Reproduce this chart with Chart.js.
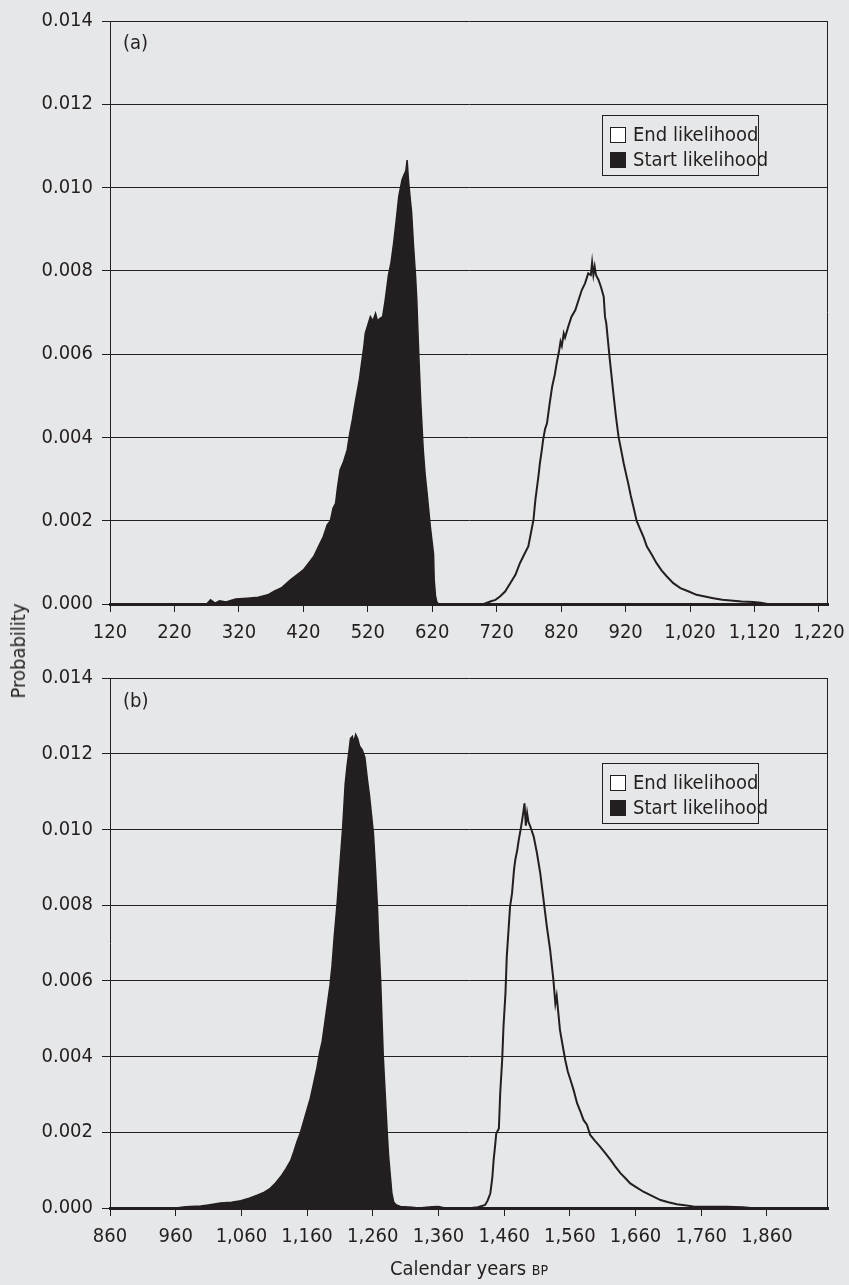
<!DOCTYPE html>
<html>
<head>
<meta charset="utf-8">
<script src="https://cdn.jsdelivr.net/npm/chart.js@4.4.1/dist/chart.umd.min.js"></script>
<style>
  html, body { margin: 0; padding: 0; background: #e6e7e8; }
  #wrap { position: relative; width: 849px; height: 1285px; background: #e6e7e8; overflow: hidden;
          font-family: "Liberation Sans Narrow", "DejaVu Sans Condensed", "Liberation Sans", "DejaVu Sans", sans-serif;
          font-stretch: condensed; color: #231f20; }
  canvas { position: absolute; left: 0; }
  .panel { position: absolute; font-size: 20px; line-height: 1; }
  .legend { position: absolute; width: 155px; height: 59px; border: 1px solid #231f20; background: #e6e7e8; font-size: 20px; }
  .legend .row { position: absolute; left: 7px; height: 22px; line-height: 22px; white-space: nowrap; }
  .legend .sw { display: inline-block; width: 14px; height: 14px; border: 1px solid #231f20; vertical-align: -2px; margin-right: 7px; }
  #ytitle { position: absolute; left: 18px; top: 651px; font-size: 20px; transform: translate(-50%, -50%) rotate(-90deg); white-space: nowrap; }
  #xtitle { position: absolute; left: 469px; top: 1268px; font-size: 20px; transform: translate(-50%, -50%); white-space: nowrap; }
  #xtitle span { font-size: 14px; }
</style>
</head>
<body>
<div id="wrap">
  <canvas id="cA" width="849" height="660" style="top:0"></canvas>
  <canvas id="cB" width="849" height="630" style="top:655px"></canvas>
  <div class="panel" style="left:123px; top:32px">(a)</div>
  <div class="panel" style="left:123px; top:690px">(b)</div>
  <div id="ytitle">Probability</div>
  <div id="xtitle">Calendar years <span>BP</span></div>
</div>
<script>
// ---------- data ----------
const seriesLabels = ["End likelihood", "Start likelihood"];
const yTicks = [0, 0.002, 0.004, 0.006, 0.008, 0.010, 0.012, 0.014];

// Panel (a)
const xTicksA = [120, 220, 320, 420, 520, 620, 720, 820, 920, 1020, 1120, 1220];
const xRangeA = [120, 1234];
const startYearsA = [120, 270, 276, 283, 290, 300, 315, 333, 350, 365, 374, 387, 400, 410, 420, 428, 436, 444, 451, 457, 462, 466, 470, 473, 477, 482, 488, 492, 496, 500, 503, 507, 511, 514, 516, 520, 524, 528, 532, 535, 539, 543, 547, 552, 556, 560, 564, 568, 573, 576, 579, 581, 583, 586, 588, 591, 594, 596, 599, 602, 606, 609, 612, 617, 620, 622, 623, 625, 627, 630, 1234];
const startProbA  = [0, 0, 0.0001, 0.00002, 0.00008, 0.00005, 0.00012, 0.00014, 0.00016, 0.00022, 0.0003, 0.0004, 0.00058, 0.0007, 0.00082, 0.00098, 0.00114, 0.0014, 0.00162, 0.0019, 0.002, 0.0023, 0.00242, 0.0028, 0.00322, 0.0034, 0.0037, 0.0041, 0.00442, 0.0048, 0.00506, 0.0054, 0.00586, 0.0062, 0.0065, 0.0067, 0.0069, 0.0068, 0.00698, 0.0068, 0.00686, 0.0069, 0.0073, 0.0079, 0.0082, 0.00866, 0.0092, 0.00978, 0.01018, 0.0103, 0.0104, 0.01066, 0.0102, 0.0097, 0.0094, 0.00858, 0.0079, 0.0073, 0.00602, 0.0049, 0.0037, 0.0031, 0.00266, 0.00186, 0.00146, 0.0012, 0.00058, 0.0002, 0.00005, 0, 0];
const endYearsA = [120, 700, 710, 718, 725, 733, 741, 749, 756, 763, 769, 773, 777, 780, 782, 785, 787, 790, 792, 795, 798, 802, 806, 810, 813, 817, 819, 821, 824, 826, 831, 836, 842, 847, 852, 857, 862, 866, 868, 870, 872, 874, 878, 882, 886, 888, 890, 895, 901, 905, 909, 913, 917, 921, 924, 928, 932, 937, 943, 948, 953, 960, 968, 976, 984, 994, 1005, 1018, 1030, 1043, 1056, 1070, 1087, 1100, 1118, 1130, 1140, 1234];
const endProbA  = [0, 0, 0.00006, 0.0001, 0.00018, 0.0003, 0.0005, 0.0007, 0.00098, 0.0012, 0.00138, 0.0017, 0.00202, 0.0025, 0.00274, 0.0031, 0.00338, 0.0037, 0.00394, 0.0042, 0.00434, 0.0048, 0.00522, 0.0055, 0.00578, 0.0061, 0.0063, 0.0062, 0.0065, 0.0064, 0.00666, 0.0069, 0.00706, 0.0073, 0.00754, 0.0077, 0.00794, 0.0079, 0.0082, 0.0079, 0.0081, 0.0079, 0.00778, 0.0076, 0.00738, 0.0069, 0.00674, 0.00594, 0.00506, 0.0045, 0.00402, 0.0037, 0.00338, 0.0031, 0.0029, 0.0026, 0.00234, 0.002, 0.00178, 0.0016, 0.00138, 0.0012, 0.00098, 0.0008, 0.00066, 0.0005, 0.00038, 0.0003, 0.00022, 0.00018, 0.00014, 0.0001, 0.00008, 0.00006, 0.00005, 0.00003, 0, 0];

// Panel (b)
const xTicksB = [860, 960, 1060, 1160, 1260, 1360, 1460, 1560, 1660, 1760, 1860];
const xRangeB = [860, 1953];
const startYearsB = [860, 960, 975, 998, 1010, 1028, 1045, 1059, 1072, 1084, 1095, 1104, 1112, 1120, 1128, 1135, 1140, 1145, 1150, 1155, 1160, 1165, 1170, 1175, 1179, 1183, 1187, 1191, 1195, 1198, 1201, 1203, 1206, 1208, 1211, 1214, 1216, 1218, 1221, 1224, 1226, 1229, 1231, 1234, 1237, 1240, 1244, 1248, 1252, 1255, 1258, 1261, 1264, 1267, 1269, 1272, 1274, 1276, 1279, 1282, 1284, 1287, 1289, 1292, 1296, 1302, 1320, 1330, 1350, 1360, 1370, 1953];
const startProbB  = [0, 0, 0.00003, 0.00005, 0.00008, 0.00013, 0.00015, 0.00019, 0.00026, 0.00034, 0.00042, 0.00052, 0.00066, 0.00083, 0.00104, 0.00125, 0.0015, 0.00177, 0.002, 0.0023, 0.0026, 0.0029, 0.0033, 0.0037, 0.0041, 0.0044, 0.0049, 0.0054, 0.0059, 0.0064, 0.0071, 0.0075, 0.0081, 0.0086, 0.0093, 0.0100, 0.0106, 0.0112, 0.0117, 0.0121, 0.0124, 0.01246, 0.0123, 0.01251, 0.0124, 0.0122, 0.0121, 0.0119, 0.0113, 0.0109, 0.0104, 0.0099, 0.0090, 0.0080, 0.0071, 0.0060, 0.0050, 0.0040, 0.0030, 0.0020, 0.0014, 0.0008, 0.0004, 0.00015, 0.00008, 0.00004, 0.00002, 0, 0.00003, 0.00004, 0, 0];
const endYearsB = [860, 1410, 1420, 1431, 1435, 1439, 1442, 1444, 1446, 1448, 1452, 1454, 1457, 1459, 1462, 1464, 1467, 1469, 1472, 1475, 1477, 1480, 1482, 1485, 1487, 1489, 1491, 1493, 1495, 1497, 1500, 1505, 1510, 1515, 1520, 1525, 1530, 1535, 1538, 1540, 1545, 1549, 1553, 1557, 1561, 1566, 1571, 1576, 1581, 1586, 1591, 1598, 1606, 1614, 1622, 1629, 1637, 1645, 1652, 1662, 1672, 1685, 1698, 1710, 1723, 1735, 1748, 1770, 1799, 1824, 1835, 1953];
const endProbB  = [0, 0, 0.00002, 0.00008, 0.0002, 0.00039, 0.0008, 0.00127, 0.0016, 0.00197, 0.0021, 0.00303, 0.00391, 0.00479, 0.00567, 0.00664, 0.00743, 0.00796, 0.00831, 0.00893, 0.0092, 0.00946, 0.0097, 0.00999, 0.0102, 0.01043, 0.01069, 0.0101, 0.01043, 0.0102, 0.01007, 0.00981, 0.00937, 0.00884, 0.00814, 0.00743, 0.00682, 0.00602, 0.0054, 0.0056, 0.0047, 0.0043, 0.00391, 0.0036, 0.00338, 0.0031, 0.00277, 0.00255, 0.00232, 0.0022, 0.00193, 0.00178, 0.00162, 0.00145, 0.00127, 0.0011, 0.00092, 0.00078, 0.00065, 0.00054, 0.00043, 0.00032, 0.00021, 0.00015, 0.0001, 0.00007, 0.00004, 0.00003, 0.00003, 0.00002, 0, 0];

// ---------- chart construction ----------
const INK = '#231f20';
const FONT_FAMILY = '"Liberation Sans Narrow", "DejaVu Sans Condensed", "Liberation Sans", "DejaVu Sans", sans-serif';
Chart.defaults.font.family = FONT_FAMILY;
Chart.defaults.font.size = 20;
Chart.defaults.font.weight = 'condensed';
Chart.defaults.color = INK;

const framePlugin = {
  id: 'frame',
  afterDatasetsDraw(chart) {
    const a = chart.chartArea, ctx = chart.ctx;
    ctx.save();
    ctx.strokeStyle = INK;
    ctx.lineWidth = 1;
    ctx.beginPath();
    ctx.moveTo(Math.round(a.right) - 0.5, a.top);
    ctx.lineTo(Math.round(a.right) - 0.5, a.bottom);
    ctx.stroke();
    ctx.restore();
  }
};

function pts(xs, ys) { return xs.map((x, i) => ({ x: x, y: ys[i] })); }

function makeChart(id, startX, startY, endX, endY, xTicks, xRange, padTop, xAxisH) {
  return new Chart(document.getElementById(id), {
    type: 'line',
    data: {
      datasets: [
        { label: seriesLabels[1], data: pts(startX, startY), borderColor: INK, backgroundColor: INK,
          borderWidth: 1.5, fill: 'origin', pointRadius: 0, tension: 0, order: 2 },
        { label: seriesLabels[0], data: pts(endX, endY), borderColor: INK, backgroundColor: '#ffffff',
          borderWidth: 2, fill: false, pointRadius: 0, tension: 0, order: 1 }
      ]
    },
    options: {
      responsive: false,
      animation: false,
      devicePixelRatio: 1,
      layout: { padding: { top: padTop, right: 21, left: 0, bottom: 0 } },
      plugins: { legend: { display: false }, tooltip: { enabled: false } },
      scales: {
        x: {
          type: 'linear', min: xRange[0], max: xRange[1],
          afterBuildTicks: s => { s.ticks = xTicks.map(v => ({ value: v })); },
          afterFit: s => { s.height = xAxisH; s.paddingLeft = 0; s.paddingRight = 0; },
          ticks: { padding: 9, maxRotation: 0, minRotation: 0, autoSkip: false,
                   callback: v => v.toLocaleString('en-US') },
          grid: { drawOnChartArea: false, drawTicks: true, tickLength: 8, color: INK, lineWidth: 1 },
          border: { display: true, color: INK, width: 3 }
        },
        y: {
          min: 0, max: 0.014,
          afterBuildTicks: s => { s.ticks = yTicks.map(v => ({ value: v })); },
          afterFit: s => { s.width = 110; s.paddingTop = 0; s.paddingBottom = 0; },
          ticks: { padding: 9, callback: v => v.toFixed(3) },
          grid: { drawOnChartArea: true, drawTicks: true, tickLength: 8, color: INK, lineWidth: 1 },
          border: { display: true, color: INK, width: 1 }
        }
      }
    },
    plugins: [framePlugin]
  });
}

makeChart('cA', startYearsA, startProbA, endYearsA, endProbA, xTicksA, xRangeA, 21, 56);
makeChart('cB', startYearsB, startProbB, endYearsB, endProbB, xTicksB, xRangeB, 23, 77);

// ---------- legends (HTML, labels from dataset labels) ----------
function addLegend(top) {
  const box = document.createElement('div');
  box.className = 'legend';
  box.style.left = '602px';
  box.style.top = top + 'px';
  const fills = ['#ffffff', INK];
  seriesLabels.forEach((lab, i) => {
    const row = document.createElement('div');
    row.className = 'row';
    row.style.top = (7 + i * 25) + 'px';
    const sw = document.createElement('span');
    sw.className = 'sw';
    sw.style.background = fills[i];
    row.appendChild(sw);
    row.appendChild(document.createTextNode(lab));
    box.appendChild(row);
  });
  document.getElementById('wrap').appendChild(box);
}
addLegend(115);
addLegend(763);
</script>
</body>
</html>
